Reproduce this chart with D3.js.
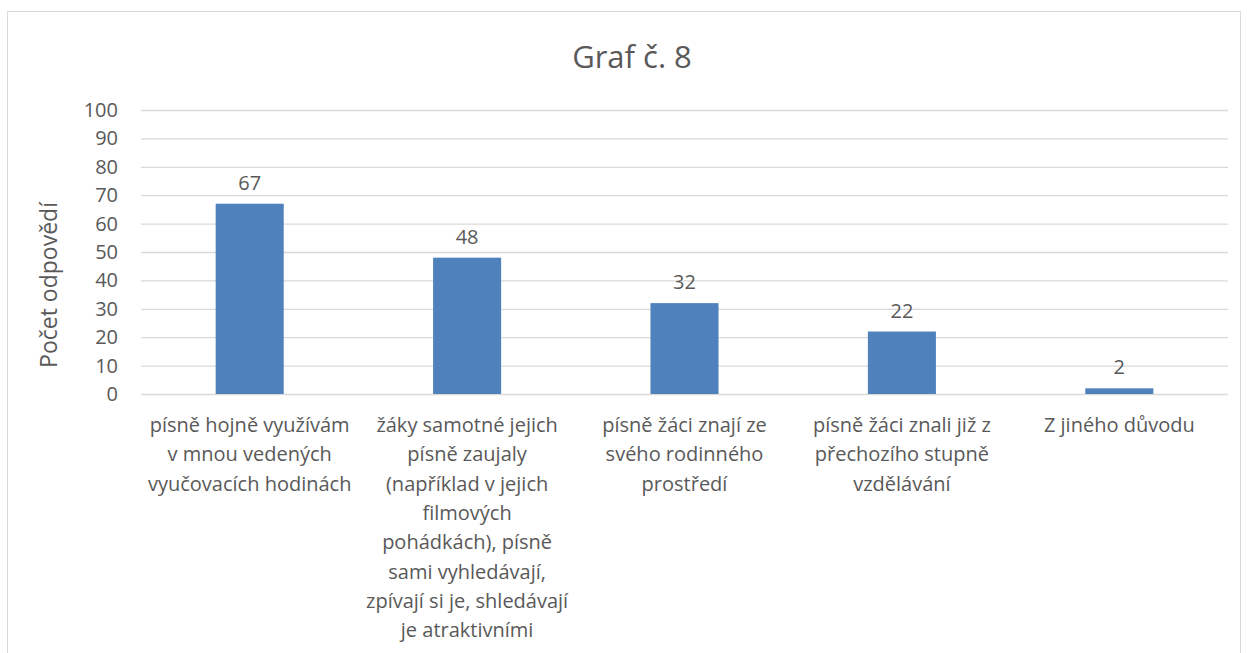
<html>
<head>
  <meta charset="UTF-8">
  <script src="https://d3js.org/d3.v7.min.js"></script>
  <style>
    body { margin: 0; background: #fff; }
    text { font-family: "Open Sans", "Noto Sans", sans-serif; fill: #595959; }
  </style>
</head>
<body>
  <svg id="chart" width="1247" height="653"></svg>
  <script>
    // chart data
    const categories = [
      ["písně hojně využívám", "v mnou vedených", "vyučovacích hodinách"],
      ["žáky samotné jejich", "písně zaujaly", "(například v jejich", "filmových", "pohádkách), písně", "sami vyhledávají,", "zpívají si je, shledávají", "je atraktivními"],
      ["písně žáci znají ze", "svého rodinného", "prostředí"],
      ["písně žáci znali již z", "přechozího stupně", "vzdělávání"],
      ["Z jiného důvodu"]
    ];
    const values = [67, 48, 32, 22, 2];
    const yTicks = [0, 10, 20, 30, 40, 50, 60, 70, 80, 90, 100];

    const svg = d3.select("svg#chart");
    const margins = { top: 110, left: 141, right: 19, bottom: 259 };
    const width = +svg.attr("width");
    const height = +svg.attr("height");
    const plotW = width - margins.left - margins.right;
    const plotH = height - margins.top - margins.bottom;

    // outer frame
    svg.append("rect")
      .attr("x", 7.5).attr("y", 11.5)
      .attr("width", 1233).attr("height", 660)
      .attr("fill", "none").attr("stroke", "#d9d9d9");

    // title
    svg.append("text")
      .attr("x", 632).attr("y", 68)
      .attr("text-anchor", "middle")
      .attr("font-size", "31px")
      .text("Graf č. 8");

    const idx = categories.map((d, i) => i);
    const xScale = d3.scaleBand().domain(idx).range([0, plotW]).padding(0);
    const yScale = d3.scaleLinear().domain([0, 100]).range([plotH, 0]);
    const barW = xScale.bandwidth() * 0.313;

    const plot = svg.append("g").attr("transform", `translate(${margins.left},${margins.top})`);

    // gridlines
    const grid = d3.axisLeft(yScale).tickValues(yTicks).tickFormat("").tickSize(-plotW);
    plot.append("g").attr("class", "gridlines").call(grid)
      .call(g => g.select(".domain").remove())
      .call(g => g.selectAll("line").attr("stroke", "#d9d9d9").attr("stroke-width", 1.3));

    // y tick labels
    const yAxis = d3.axisLeft(yScale).tickValues(yTicks).tickSize(0).tickPadding(23);
    plot.append("g").call(yAxis)
      .call(g => g.select(".domain").remove())
      .call(g => g.selectAll("text").attr("font-size", "20px").attr("fill", "#595959")
        .style("font-family", "'Open Sans', sans-serif"));

    // bars
    plot.selectAll("rect.bar").data(values)
      .join("rect").attr("class", "bar")
      .attr("x", (d, i) => xScale(i) + xScale.bandwidth() / 2 - barW / 2)
      .attr("y", d => yScale(d))
      .attr("width", barW)
      .attr("height", d => yScale(0) - yScale(d))
      .attr("fill", "#4f81bd");

    // value labels
    plot.selectAll("text.value").data(values)
      .join("text").attr("class", "value")
      .attr("x", (d, i) => xScale(i) + xScale.bandwidth() / 2)
      .attr("y", d => yScale(d) - 14)
      .attr("text-anchor", "middle")
      .attr("font-size", "20px")
      .text(d => d);

    // category labels (wrapped lines)
    const labels = plot.selectAll("text.cat").data(categories)
      .join("text").attr("class", "cat")
      .attr("text-anchor", "middle")
      .attr("font-size", "20px")
      .attr("transform", (d, i) => `translate(${xScale(i) + xScale.bandwidth() / 2},${plotH + 38})`);
    labels.selectAll("tspan").data(d => d)
      .join("tspan")
      .attr("x", 0)
      .attr("y", (d, j) => j * 29.3)
      .text(d => d);

    // y axis title
    svg.append("text")
      .attr("transform", `translate(57,285) rotate(-90)`)
      .attr("text-anchor", "middle")
      .attr("font-size", "23px")
      .text("Počet odpovědí");
  </script>
</body>
</html>
